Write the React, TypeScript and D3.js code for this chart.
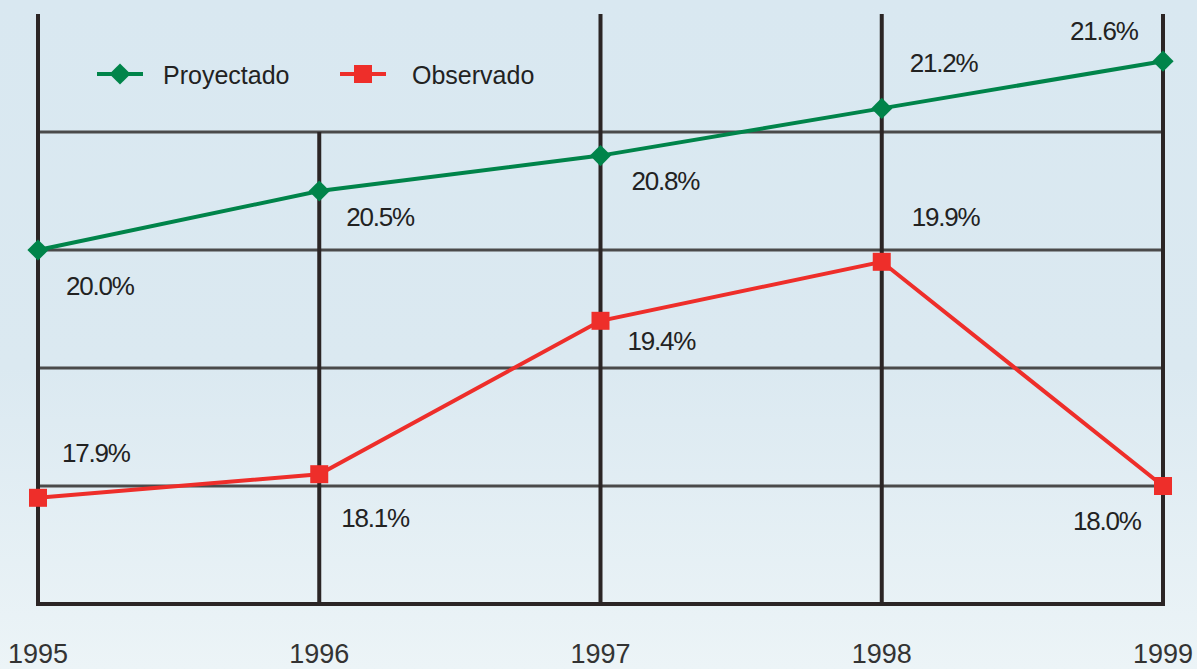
import React from "react";
import * as d3 from "d3";

const years = ["1995", "1996", "1997", "1998", "1999"];
const proyectado = [20.0, 20.5, 20.8, 21.2, 21.6];
const observado = [17.9, 18.1, 19.4, 19.9, 18.0];
const gridValues = [21, 20, 19, 18];
const seriesNames = ["Proyectado", "Observado"];

// label offsets relative to each point (styling)
const greenOffsets = [[28, 45], [27, 35], [31, 34], [28, -36], [-93, -21]];
const redOffsets = [[24, -36], [22, 53], [27, 29], [30, -36], [-90, 44]];

const W = 1197, H = 669;
const GREEN = "#00844a";
const RED = "#ee2e2a";
const DARK = "#2b2525";

export default function App() {
  const x = d3.scalePoint<string>().domain(years).range([38, 1163]);
  const y = d3.scaleLinear().domain([17, 22]).range([604, 14]);
  const line = d3.line<number>().x((_, i) => x(years[i])!).y((d) => y(d));
  const fmt = (v: number) => v.toFixed(1) + "%";
  const labelStyle: React.CSSProperties = { fontFamily: "Liberation Sans, Arial, sans-serif", fontSize: 26, letterSpacing: -1.2, fill: "#222" };

  return (
    <svg width={W} height={H} style={{ position: "absolute", left: 0, top: 0 }}>
      <defs>
        <linearGradient id="bg" x1="0" y1="0" x2="0" y2="1">
          <stop offset="0" stopColor="#d9e8f1" />
          <stop offset="0.55" stopColor="#dbe9f1" />
          <stop offset="1" stopColor="#ecf4f7" />
        </linearGradient>
      </defs>
      <rect width={W} height={H} fill="url(#bg)" />
      {gridValues.map((v) => (
        <line key={v} x1={x(years[0])} x2={x(years[4])} y1={y(v)} y2={y(v)} stroke="#4a4a4a" strokeWidth={3} />
      ))}
      {years.map((yr, i) => (
        <line key={yr} x1={x(yr)} x2={x(yr)} y1={i === 1 ? y(21) : y(22)} y2={y(17) + 2} stroke={DARK} strokeWidth={4} />
      ))}
      <line x1={x(years[0])! - 2} x2={x(years[4])! + 2} y1={y(17)} y2={y(17)} stroke={DARK} strokeWidth={4} />
      <path d={line(proyectado)!} fill="none" stroke={GREEN} strokeWidth={4} />
      <path d={line(observado)!} fill="none" stroke={RED} strokeWidth={4} />
      {proyectado.map((v, i) => (
        <rect key={i} x={-7.5} y={-7.5} width={15} height={15} fill={GREEN}
          transform={`translate(${x(years[i])},${y(v)}) rotate(45)`} />
      ))}
      {observado.map((v, i) => (
        <rect key={i} x={x(years[i])! - 9} y={y(v) - 9} width={18} height={18} fill={RED} />
      ))}
      {proyectado.map((v, i) => (
        <text key={i} x={x(years[i])! + greenOffsets[i][0]} y={y(v) + greenOffsets[i][1]} style={labelStyle}>{fmt(v)}</text>
      ))}
      {observado.map((v, i) => (
        <text key={i} x={x(years[i])! + redOffsets[i][0]} y={y(v) + redOffsets[i][1]} style={labelStyle}>{fmt(v)}</text>
      ))}
      {years.map((yr) => (
        <text key={yr} x={x(yr)} y={663} textAnchor="middle" style={{ fontFamily: "Liberation Sans, Arial, sans-serif", fontSize: 27, fill: "#333" }}>{yr}</text>
      ))}
      <g>
        <line x1={97} x2={143} y1={74} y2={74} stroke={GREEN} strokeWidth={4} />
        <rect x={-7.5} y={-7.5} width={15} height={15} fill={GREEN} transform="translate(120,74) rotate(45)" />
        <text x={163} y={84} style={{ fontFamily: "Liberation Sans, Arial, sans-serif", fontSize: 25, fill: "#222" }}>{seriesNames[0]}</text>
        <line x1={340} x2={386} y1={74} y2={74} stroke={RED} strokeWidth={4} />
        <rect x={354} y={65} width={18} height={18} fill={RED} />
        <text x={412} y={84} style={{ fontFamily: "Liberation Sans, Arial, sans-serif", fontSize: 25, fill: "#222" }}>{seriesNames[1]}</text>
      </g>
    </svg>
  );
}
